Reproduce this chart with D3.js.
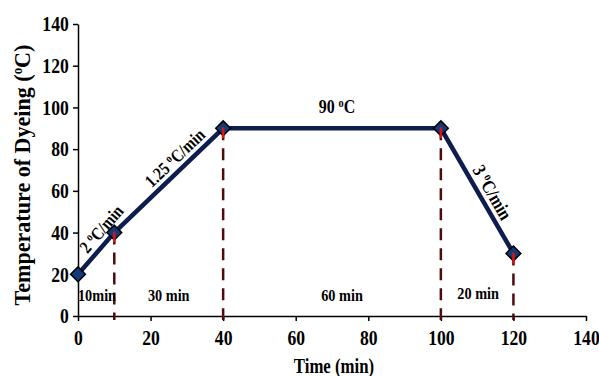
<!DOCTYPE html>
<html>
<head>
<meta charset="utf-8">
<script src="https://cdn.jsdelivr.net/npm/d3@7"></script>
<style>
  body { margin: 0; background: #fff; }
  text { font-family: "Liberation Serif", "Times New Roman", serif; font-weight: bold; fill: #000; }
</style>
</head>
<body>
<div id="chart"></div>
<script>
// Dyeing profile data
var times = [0, 10, 40, 100, 120];
var temps = [20, 40, 90, 90, 30];
var xTicks = [0, 20, 40, 60, 80, 100, 120, 140];
var yTicks = [0, 20, 40, 60, 80, 100, 120, 140];

// segment notes: [start index, end index, number, unit]
var rateNotes = [[0, 1, "2 ", "C/min"], [1, 2, "1.25 ", "C/min"], [3, 4, "3 ", "C/min"]];
var rateShift = [22, 20, 9];
var durLabels = ["10min", "30 min", "60 min", "20 min"];

var svgWidth = 599, svgHeight = 376;
var margin = { top: 24, right: 13, bottom: 60, left: 78 };
var width = svgWidth - margin.left - margin.right;
var height = svgHeight - margin.top - margin.bottom;

var squeeze = 0.84;

var svg = d3.select("#chart").append("svg")
    .attr("width", svgWidth)
    .attr("height", svgHeight);

var chartGroup = svg.append("g")
    .attr("transform", `translate(${margin.left}, ${margin.top})`);

var x = d3.scaleLinear().domain([0, 140]).range([0, width]);
var y = d3.scaleLinear().domain([0, 140]).range([height, 0]);

// axes
var xAxis = chartGroup.append("g")
    .attr("transform", `translate(0, ${height})`)
    .call(d3.axisBottom(x).tickValues(xTicks).tickSize(5).tickSizeOuter(0).tickPadding(9));
var yAxis = chartGroup.append("g")
    .call(d3.axisLeft(y).tickValues(yTicks).tickSize(5).tickSizeOuter(0).tickPadding(6));

[xAxis, yAxis].forEach(a => {
    a.selectAll("path, line").attr("stroke", "#000").attr("stroke-width", 1.5);
    a.selectAll("text")
        .style("font-family", '"Liberation Serif", serif')
        .style("font-weight", "bold")
        .style("font-size", "21px")
        .attr("transform", `scale(${squeeze},1)`);
});

// dashed drop lines
chartGroup.selectAll(".drop")
    .data(times.slice(1))
    .enter()
    .append("line")
    .attr("x1", d => x(d))
    .attr("x2", d => x(d))
    .attr("y1", (d, i) => y(temps[i + 1]))
    .attr("y2", height + 4)
    .attr("stroke", "#4e0a0c")
    .attr("stroke-width", 2.5)
    .attr("stroke-dasharray", "12,8");

// profile line
var line = d3.line().x(d => x(d[0])).y(d => y(d[1]));
chartGroup.append("path")
    .datum(times.map((t, i) => [t, temps[i]]))
    .attr("d", line)
    .attr("fill", "none")
    .attr("stroke", "#0c1d4e")
    .attr("stroke-width", 4.5);

// diamond markers
chartGroup.selectAll(".pt")
    .data(times)
    .enter()
    .append("path")
    .attr("d", d3.symbol().type(d3.symbolDiamond2).size(140))
    .attr("transform", (d, i) => `translate(${x(d)}, ${y(temps[i])})`)
    .attr("fill", "#123a7a")
    .attr("stroke", "#000")
    .attr("stroke-width", 1.5);

// red tick under each marker (except the first)
chartGroup.selectAll(".redmark")
    .data(times.slice(1))
    .enter()
    .append("line")
    .attr("x1", d => x(d)).attr("x2", d => x(d))
    .attr("y1", (d, i) => y(temps[i + 1]) - 1)
    .attr("y2", (d, i) => y(temps[i + 1]) + 10)
    .attr("stroke", "#d81414")
    .attr("stroke-width", 2.5);

// helper for "N °C..." labels with superscript o
function degText(g, pre, post, size) {
    var t = g.append("text").style("font-size", size + "px").attr("text-anchor", "middle")
        .attr("transform", `scale(${squeeze},1)`);
    t.append("tspan").text(pre);
    t.append("tspan").text("o").style("font-size", (size * 0.65) + "px").attr("dy", -size * 0.35);
    t.append("tspan").text(post).attr("dy", size * 0.35);
    return t;
}

// rate labels along each sloped segment
rateNotes.forEach((n, k) => {
    var x1 = x(times[n[0]]), y1 = y(temps[n[0]]);
    var x2 = x(times[n[1]]), y2 = y(temps[n[1]]);
    var ang = Math.atan2(y2 - y1, x2 - x1) * 180 / Math.PI;
    var g = chartGroup.append("g")
        .attr("transform", `translate(${(x1 + x2) / 2}, ${(y1 + y2) / 2}) rotate(${ang}) translate(${rateShift[k]}, -6)`);
    degText(g, n[2], n[3], k === 2 ? 19 : 18);
});

// plateau label
var gTop = chartGroup.append("g")
    .attr("transform", `translate(${(x(times[2]) + x(times[3])) / 2 + 5}, ${y(temps[2]) - 15})`);
degText(gTop, "90 ", "C", 19);

// duration labels between drop lines
var durX = [x(0) + 19, (x(10) + x(40)) / 2, (x(40) + x(100)) / 2 + 10, (x(100) + x(120)) / 2 + 1];
chartGroup.selectAll(".dur")
    .data(durLabels)
    .enter()
    .append("text")
    .attr("transform", (d, i) => `translate(${durX[i]}, ${i === 3 ? height - 17 : height - 15}) scale(${squeeze},1)`)
    .attr("text-anchor", "middle")
    .style("font-size", "17px")
    .text(d => d);

// axis titles
chartGroup.append("text")
    .attr("transform", `translate(${width / 2 + 2}, ${height + 57}) scale(${squeeze},1)`)
    .attr("text-anchor", "middle")
    .style("font-size", "20px")
    .text("Time (min)");

var yt = chartGroup.append("text")
    .attr("transform", `translate(${-margin.left + 30}, ${height / 2 + 5}) rotate(-90) scale(0.92,1)`)
    .attr("text-anchor", "middle")
    .style("font-size", "24px");
yt.append("tspan").text("Temperature of Dyeing (");
yt.append("tspan").text("o").style("font-size", "14px").attr("dy", -8);
yt.append("tspan").text("C)").attr("dy", 8);
</script>
</body>
</html>
